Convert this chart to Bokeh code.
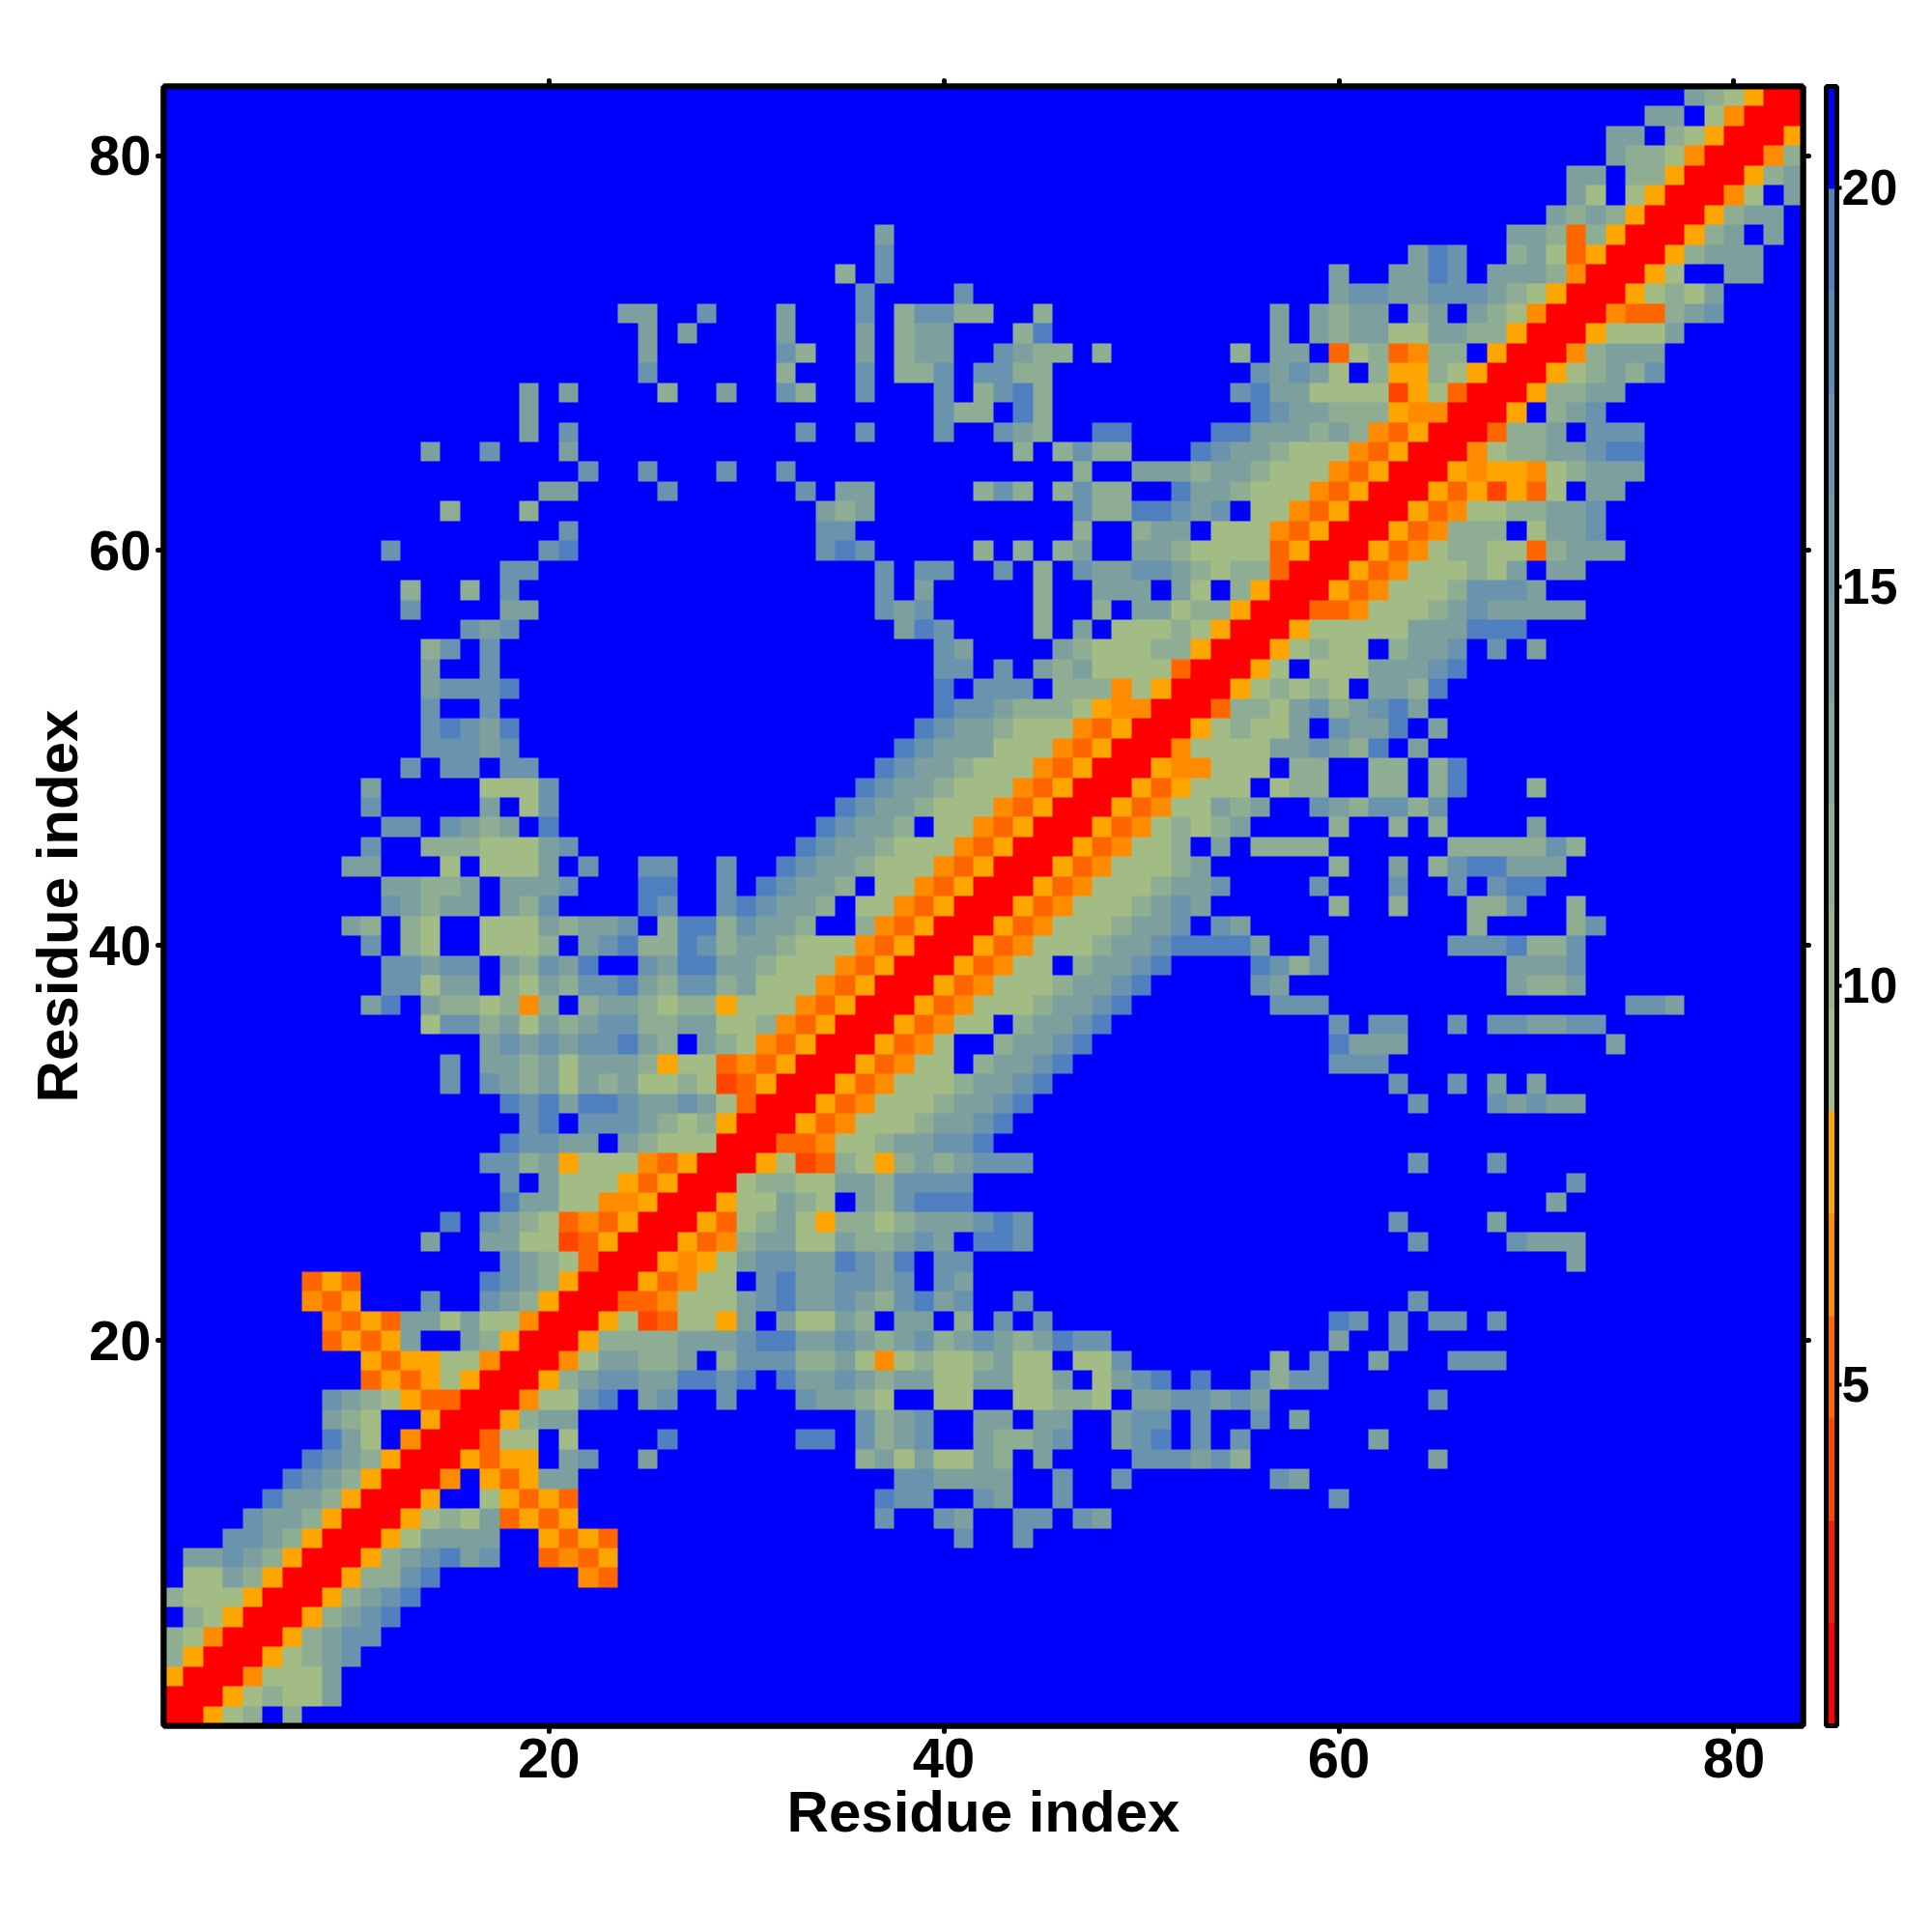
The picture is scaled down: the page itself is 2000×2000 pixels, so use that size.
import numpy as np
from bokeh.plotting import figure
from bokeh.embed import file_html
from bokeh.resources import INLINE
from bokeh.models import LinearColorMapper, ColorBar, FixedTicker, LinearAxis, Range1d

AXIS_TITLE = "Residue index"
AXIS_TICKS = [20, 40, 60, 80]
BAR_TICKS = [5, 10, 15, 20]
N_RESIDUES = 83
BAR_LOW, BAR_HIGH = 0.72, 21.27
PALETTE = ["#FF0000", "#F42000", "#FF4500", "#FF6600", "#FF8C00", "#FFA500",
           "#A3BC85", "#98B48C", "#8EAD92", "#85A798", "#7DA09E", "#749AA5",
           "#6A93AD", "#5E8BB6", "#5080C0", "#0000FF"]
# Distance class
LEVEL_VALUES = {".": 21.0, "e": 19.3, "d": 16.8, "c": 14.2, "b": 11.7, "a": 9.0,
                "o": 7.8, "p": 6.5, "q": 5.2, "r": 4.0, "R": 1.5}

# row (residue index) -> "first_column:cells" runs; unlisted cells are "."
ROWS = {
83: "78:cbaoRR",
82: "76:cc.apRRR",
81: "74:cc.baoRRRo",
80: "74:cbbapRRRpb",
79: "72:cc.bboRRRobc",
78: "72:ca.aoRRRpa.c",
77: "71:cbcboRRRobcc",
76: "37:c 69:ccbqboRRRobc.c",
75: "37:d 64:ced 69:bcaqoRRRobccc",
74: "35:b 37:d 60:c 63:cced 68:cccbpRRRoa..cc",
73: "36:d 41:d 60:cddccdddcbaoRRRoabac",
72: "24:cc 28:d 32:c 36:d 38:bddbb 45:b 57:c.cbcc.bc.cbapRRRpqqbcd",
71: "25:c 27:c 32:c 36:c 38:bcc 44:be 57:c 59:cbccaaccbboRRRoaaac",
70: "25:c 32:db 36:c 38:bcc 43:dcbb 48:b 55:b 57:cc.qabqpbb.oRRRpbccc",
69: "25:d 32:b 36:d 38:bbd 42:ddbb 56:dcdca.boobaoRRRoabcbd",
68: "19:c 21:c 26:b 29:c 32:db 36:d 40:d 42:bdeb 55:deccaaaaroaqRRRobbcc",
67: "19:c 40:dbb.eb 56:edccbbbopp 66:RRRo.bcd",
66: "19:c 21:d 33:d 36:d 40:d 43:dcb 48:ee 54:eecccbcbpqoRRRqbbc.ddd",
65: "14:c 17:d 21:c 44:b 46:bdbb 53:edccbaaapqoRRRpabbccdee",
64: "22:d 25:d 29:d 32:d 47:b 50:cccbccbaaapqoRRRopoopabccc",
63: "20:cc 26:d 33:d 35:cc 42:bdb 46:bdbb 52:eccbaaapqoRRRoqoroqa.cc",
62: "15:b 19:b 34:cbc 47:dbbeedcd.aapqoRRRoqpaabbccd",
61: "21:d 34:dd 47:b 50:bcc.aaapqoRRRoqpbbb.accd",
60: "12:d 20:de 34:ded 42:b 44:b 46:bc 50:ccbaaaaqoRRRoqpabbaaqbccc",
59: "18:dd 37:d 39:dd 43:d 45:b 47:dccddcbabbqRRRoqpaaabac.cc",
58: "13:b 16:b 18:d 37:d 39:c 45:b 48:ccc.ca.boRRRoqpaaabdddc",
57: "13:d 18:cc 37:dcd 45:b 48:b.ccabboRRRqqpaaabcdccccc",
56: "16:dcd 38:ced 45:b 47:c.aaabaoRRRoaaaaaccceee",
55: "14:bd 17:d 40:dc 46:cbaaabboRRRoabaa.bccd 68:d 70:c",
54: "14:c 17:d 40:dd 43:d 45:cbcaaaaqRRRoa.aaacccde",
53: "14:cddde 40:e.ddd.bbbpaoRRRoababa.ccbe",
52: "14:d 17:d 40:eddcbbbaoppRRRqbbacdbcdec",
51: "14:dedce 39:edccbaaapqoRRRoabaac.dcce.c",
50: "14:dddcd 38:edcccaaapqoRRRpaaaaccdcbe.c",
49: "13:d 15:dd 18:dd 37:edccbaaapqoRRRoppaaa.bb..bb.be",
48: "11:c 17:aaad 36:edccbaaapqoRRRoqoaaa.abb..bb.be 70:b",
47: "11:d 17:c.ad 35:edccbaaapqoRRRoqpaacbc 59:dcbddbd",
46: "12:dd 15:dcbc.e 34:edccb.aapqoRRRoqpababc 60:b 63:b 65:b 70:c",
45: "11:d 14:bbbaaacd 33:edccbaaapqoRRRoqpaab.c.bbbb 66:bbbbbdb",
44: "10:cc 15:a.aaac.d 25:dd 29:d 32:edccbaaapqoRRRoqpaaabc 60:b 63:c 65:bdeeccc",
43: "12:ccbbc.cccd 25:ee 29:d 31:edccb.aapqoRRRoqpaaabccd 59:d 63:d 66:d.dee",
42: "12:dcbcc.cbd 25:ed 29:dedccb.aapqoRRRoqpaaabcdc 60:b 63:b 67:bbd 72:b",
41: "10:cb.ba..aaacbccd.bee 29:bdccb..bpqoRRRoqpaaabccd.dc 67:b 72:bd",
40: "11:d.ba..aaab.cdebbed 29:bccbaaapqoRRRoqpaaabccdeeeec 59:d 66:dddebbd",
39: "12:ddcdd.cbdce..dcee 29:ccbaaapqoRRRoqpaa.bccde 56:edbd 69:cccd",
38: "12:ddacc.bacbddecbdd 29:bcaaapqoRRRoqpaaabccde 56:dc 69:cbbc",
37: "11:ce 14:cbbabpb.bccbabb 29:oaaapqoRRRoqpaaabccde 57:ddd 75:ddc",
36: "14:addbcacbcddbbcc 29:aabpqoRRRoqpaa.bccde 60:d 62:dd 66:d 68:ddccdd",
35: "17:cdcdcddecb.c 29:bapqoRRRoqpa..bccde 60:eccc 74:c",
34: "15:d 17:ccbcacccboaa 29:qpqoRRRoqpaa.bccde 60:ddd",
33: "15:d 17:dcbcacbcaaba 29:rqoRRRoqpaaabccde 63:d 66:d 68:c 70:c",
32: "18:edeceedccdc 29:aqRRRoqpaaabccde 64:d 68:dcdcc",
31: "19:de.dddcbab 29:oRRRoqpaaabccde",
30: "18:eddcc.cbaaa 29:RRRqqpaabccdde",
29: "17:ddbcoaaapqoRRRoarqbaobcbcddd 64:d 68:d",
28: "18:d.caaaoqoRRRabbaaccbdddd 72:d",
27: "18:eccaappoRRRoaacba.cbdeee 71:c",
26: "15:e 17:dcbaqpqoRRRoqabcaobbabcccded 63:d 68:c",
25: "14:c 17:ccaarqoRRRoqpbccaacbbcdc.eed 64:d 69:dccc",
24: "18:dcbaqRRRopoacddccedce.dd 72:c",
23: "8:qoq 17:edcboRRRoqpaa.deccddcd.dc",
22: "8:pqo 14:d 17:dcboRRRqqpaaacdeccdcbdecd 44:d 64:d",
21: "9:pqoqccacaapRRRoarqaaoc.caacb.cc.b 43:d.d 60:ed 63:d 65:dd 68:d",
20: "9:qoqoc..cboRRRobbbbcccdeeccdcbcdbcdcbcedd 60:c 63:d",
19: "11:oqooaapRRRpaccbbc.bdddbbcapabaabcaa.aad 57:b 59:d 62:c 66:ddd",
18: "11:qoqoaoRRRobcddccee 29:de.eccdcbccaaccaac.acde.e 56:dbdd",
17: "9:dcbaoqqRRRpaade.cd 29:d 33:dccba..aa..aabba.ccddcdc 65:d",
16: "9:cba..oRRRobcc 36:dbcd 42:cc.cc 49:cdd 53:d 56:d 58:c",
15: "9:eca.pRRRqaa.a 26:e 33:ee 36:dbcd 42:cbbcd 49:cde 53:d 55:d 62:c",
14: "8:edcboRRRoqoo.cd 25:c 36:bcacaacb 45:c 50:dddcdb 65:c",
13: "7:edcboRRRp.oqocc 38:ddcccc 46:d 49:d 57:dc",
12: "6:eccboRRRo..aoqoq 37:edd 42:dc 46:d 60:d",
11: "5:dccboRRRoabacqoqo 37:d 40:dc 44:dd 47:dc",
10: "4:ddcboRRRoacccc 20:oqoq 41:d 44:d",
9: "2:ccdcboRRRobcdecd 20:qpqo",
8: "2:aacboRRRobbde 22:pq",
7: "1:baaaoRRRobcde",
6: "2:baoRRRobcde",
5: "1:bapRRRobcdd",
4: "1:boRRRoabcd",
3: "1:oRRRpaaac",
2: "1:RRRoabaac",
1: "1:RRoab.b",
}

# Build the matrix from the rows
matrix = np.full((N_RESIDUES, N_RESIDUES), LEVEL_VALUES["."], dtype=float)
for y, text in ROWS.items():
    for run in text.split():
        start, cells = run.split(":")
        for k, ch in enumerate(cells):
            matrix[y - 1, int(start) - 1 + k] = LEVEL_VALUES[ch]

FONT = "Liberation Sans"
lo, hi = 0.5, N_RESIDUES + 0.5
p = figure(frame_width=1697, frame_height=1697,
           x_range=Range1d(lo, hi), y_range=Range1d(lo, hi),
           output_backend="svg", toolbar_location=None,
           min_border_left=169, min_border_top=89, min_border_bottom=140, min_border_right=10,
           x_axis_type=None, y_axis_type=None, background_fill_color="#0000FF")
p.grid.visible = False

mapper = LinearColorMapper(palette=PALETTE, low=BAR_LOW, high=BAR_HIGH)
p.image(image=[matrix], x=lo, y=lo, dw=N_RESIDUES, dh=N_RESIDUES, color_mapper=mapper)


def style(ax, labels, major_standoff=7, title_standoff=0):
    ax.ticker = FixedTicker(ticks=AXIS_TICKS)
    ax.axis_line_color = "black"
    ax.axis_line_width = 6
    ax.major_tick_line_color = "black"
    ax.major_tick_line_width = 5
    ax.major_tick_line_cap = "round"
    ax.major_tick_in = 0
    ax.major_tick_out = 6
    ax.minor_tick_line_color = None
    if labels:
        ax.axis_label = AXIS_TITLE
        ax.axis_label_text_font = FONT
        ax.axis_label_text_font_style = "bold"
        ax.axis_label_text_font_size = "60px"
        ax.axis_label_text_color = "black"
        ax.major_label_text_font = FONT
        ax.major_label_text_font_style = "bold"
        ax.major_label_text_font_size = "58px"
        ax.major_label_text_color = "black"
        ax.major_label_standoff = major_standoff
        ax.axis_label_standoff = title_standoff
    else:
        ax.major_label_text_color = None
        ax.major_label_text_font_size = "1px"
        ax.major_label_standoff = 0


bottom_axis = LinearAxis()
style(bottom_axis, True, major_standoff=7, title_standoff=-1)
p.add_layout(bottom_axis, "below")
left_axis = LinearAxis()
style(left_axis, True, major_standoff=7, title_standoff=-4)
p.add_layout(left_axis, "left")
for side in ("above", "right"):
    ax = LinearAxis()
    style(ax, False)
    p.add_layout(ax, side)

p.outline_line_color = "black"
p.outline_line_width = 6

bar = ColorBar(color_mapper=mapper, ticker=FixedTicker(ticks=BAR_TICKS),
               width=11, height=1697, padding=0, margin=35, location=(18, 0),
               bar_line_color="black", bar_line_width=5,
               major_tick_line_color="black", major_tick_line_width=4,
               major_tick_in=0, major_tick_out=5, minor_tick_line_color=None,
               major_label_text_font=FONT, major_label_text_font_style="bold",
               major_label_text_font_size="52px", major_label_text_color="black",
               label_standoff=0, border_line_color=None, background_fill_color=None)
p.add_layout(bar, "right")

open("out.html", "w").write(file_html(p, INLINE))
